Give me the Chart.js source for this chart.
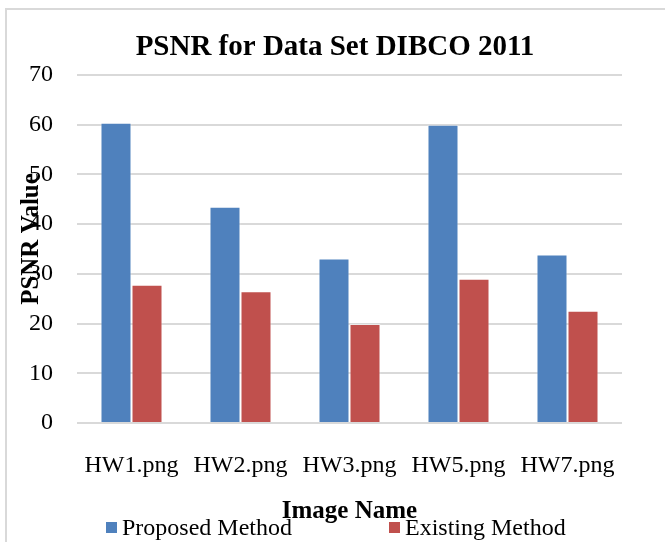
<!DOCTYPE html>
<html>
<head>
<meta charset="utf-8">
<script src="https://cdn.jsdelivr.net/npm/chart.js@4"></script>
<style>
  body { margin: 0; background: #fff; }
  #frame { position: absolute; left: 5px; top: 8px; width: 670px; height: 545px;
           border-left: 2px solid #d9d9d9; border-top: 2px solid #d9d9d9; }
  canvas { position: absolute; left: 0; top: 0; }
</style>
</head>
<body>
<div id="frame"></div>
<canvas id="psnrChart" width="665" height="542"></canvas>
<script>
// data
const images = ['HW1.png', 'HW2.png', 'HW3.png', 'HW5.png', 'HW7.png'];
const proposed = [60.4, 43.5, 33.1, 60.0, 33.9];
const existing = [27.8, 26.5, 19.9, 29.0, 22.6];
const yTicks = [0, 10, 20, 30, 40, 50, 60, 70];

const serif = 'Liberation Serif';

// title, axis titles and legend are drawn by hand, they overlap like in the original
const textPlugin = {
    id: 'texts',
    afterDraw(chart) {
        const ctx = chart.ctx;
        const area = chart.chartArea;
        ctx.save();
        ctx.fillStyle = '#000';
        ctx.textBaseline = 'alphabetic';
        ctx.textAlign = 'center';
        ctx.font = 'bold 29px "' + serif + '"';
        ctx.fillText('PSNR for Data Set DIBCO 2011', 335, 55);

        ctx.font = 'bold 25px "' + serif + '"';
        ctx.fillText('Image Name', (area.left + area.right) / 2, 518);

        ctx.save();
        ctx.translate(38, 239);
        ctx.rotate(-Math.PI / 2);
        ctx.fillText('PSNR Value', 0, 0);
        ctx.restore();

        // legend
        ctx.textAlign = 'left';
        ctx.font = '24px "' + serif + '"';
        const items = [[106, chart.data.datasets[0]], [389, chart.data.datasets[1]]];
        items.forEach(([x, ds]) => {
            ctx.fillStyle = ds.backgroundColor;
            ctx.fillRect(x, 522, 11, 11);
            ctx.fillStyle = '#000';
            ctx.fillText(ds.label, x + 16, 535);
        });
        ctx.restore();
    }
};

new Chart(document.getElementById('psnrChart'), {
    type: 'bar',
    data: {
        labels: images,
        datasets: [{
            label: 'Proposed Method',
            data: proposed,
            backgroundColor: '#4F81BD',
            borderColor: 'rgba(255,255,255,0.45)',
            borderWidth: 1
        }, {
            label: 'Existing Method',
            data: existing,
            backgroundColor: '#C0504D',
            borderColor: 'rgba(255,255,255,0.45)',
            borderWidth: 1
        }]
    },
    options: {
        responsive: false,
        animation: false,
        layout: { padding: { top: 75, right: 43, left: 0, bottom: 0 } },
        plugins: { legend: { display: false }, title: { display: false }, tooltip: { enabled: false } },
        datasets: { bar: { categoryPercentage: 0.569, barPercentage: 1 } },
        scales: {
            x: {
                grid: { display: false, drawTicks: false },
                border: { display: false },
                ticks: { color: '#000', font: { family: serif, size: 24 }, padding: 28, maxRotation: 0 },
                afterFit(scale) { scale.height = 119; }
            },
            y: {
                min: 0,
                max: 70,
                afterBuildTicks(scale) { scale.ticks = yTicks.map(v => ({ value: v })); },
                grid: { color: '#d9d9d9', lineWidth: 2, drawTicks: false },
                border: { display: false },
                ticks: { color: '#000', font: { family: serif, size: 24 }, padding: 24 },
                afterFit(scale) { scale.width = 77; }
            }
        }
    },
    plugins: [textPlugin]
});
</script>
</body>
</html>
